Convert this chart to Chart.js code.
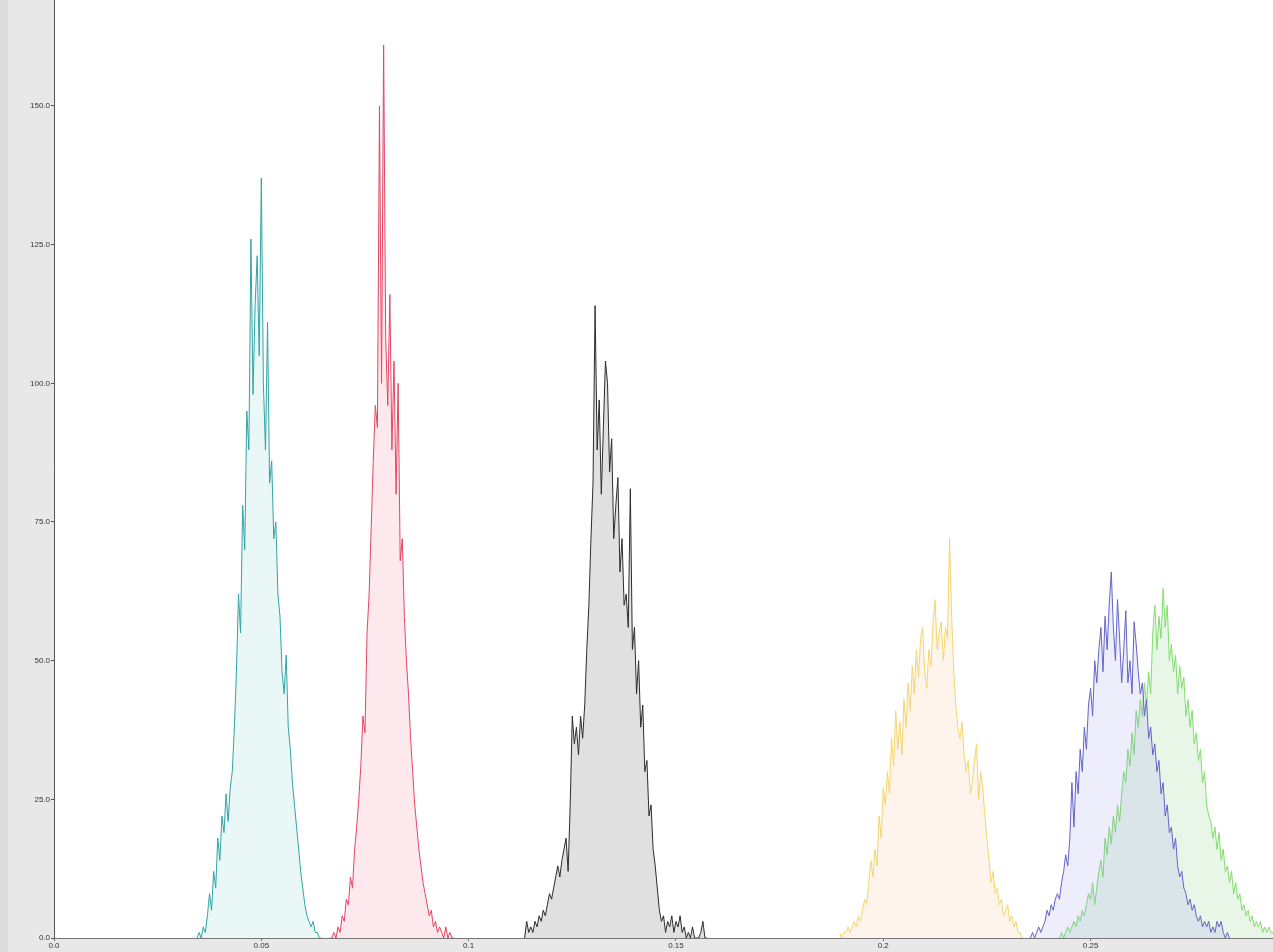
<!DOCTYPE html>
<html>
<head>
<meta charset="utf-8">
<script src="https://cdn.jsdelivr.net/npm/chart.js@4.4.1/dist/chart.umd.min.js"></script>
<style>
html,body{margin:0;padding:0;background:#e8e8e8;}
#wrap{width:1273px;height:952px;position:relative;}
canvas{display:block;}
</style>
</head>
<body>
<div id="wrap"><canvas id="c" width="1273" height="952"></canvas></div>
<script>
// ---- data ----
const binWidth = 0.0005;
const xMax = 0.294;
const yMax = 169.1;

const xTickValues = [0, 0.05, 0.1, 0.15, 0.2, 0.25];
const xTickLabels = ['0.0', '0.05', '0.1', '0.15', '0.2', '0.25'];
const yTickValues = [0, 25, 50, 75, 100, 125, 150];
const yTickLabels = ['0.0', '25.0', '50.0', '75.0', '100.0', '125.0', '150.0'];

const tealStart = 0.0345;
const tealY = [0,1,0,2,1,4,8,5,12,9,18,14,22,19,26,21,27,30,38,48,62,55,78,70,95,88,126,98,114,123,105,137,100,88,111,82,86,72,75,62,58,48,44,51,38,34,28,24,20,16,12,9,6,4,3,2,3,1,1,0,0];

const redStart = 0.0665;
const redY = [0,0,1,0,2,1,4,3,7,6,11,9,16,20,25,31,40,37,55,62,74,86,96,92,150,100,161,108,96,116,88,104,80,100,68,72,58,50,44,36,30,24,20,16,13,10,8,6,4,5,2,3,1,2,1,0,2,0,1,0,0];

const blackStart = 0.1135;
const blackY = [0,3,1,2,1,3,2,4,3,5,4,6,8,7,9,11,13,11,14,16,18,12,24,40,35,38,33,40,36,42,52,60,72,82,114,88,97,80,92,104,100,84,90,72,78,83,66,72,60,62,56,81,52,56,44,50,38,42,30,32,22,24,16,13,9,5,3,4,1,3,2,4,1,3,2,4,1,2,0,1,0,2,0,0,0,1,3,0,0];

const yellowStart = 0.1895;
const yellowY = [1,0,1,1,2,1,2,3,2,4,3,5,7,6,10,14,11,16,13,22,18,27,24,30,26,36,31,41,34,39,33,43,38,46,41,49,44,52,47,54,56,48,45,52,49,57,61,52,55,57,50,56,54,72,58,48,42,38,36,39,33,30,32,26,28,32,35,25,30,27,22,18,14,10,12,8,9,6,7,4,5,6,3,4,2,3,1,1,0];

const blueStart = 0.2355;
const blueY = [0,1,0,1,2,1,2,3,5,4,6,5,7,8,7,10,12,15,13,18,28,20,30,26,34,30,38,34,42,45,40,50,46,52,56,48,58,52,60,66,56,50,61,54,46,52,59,46,50,44,57,53,48,44,46,40,43,36,38,33,35,30,32,26,28,22,24,19,20,16,18,13,11,12,9,8,6,7,5,6,4,3,4,2,3,2,3,1,2,1,3,2,3,1,0,1,0];

const greenStart = 0.2425;
const greenY = [0,1,0,1,2,1,2,3,2,4,3,5,4,6,8,7,10,6,9,12,14,11,18,15,20,17,22,19,24,21,26,30,28,34,31,37,33,41,38,43,40,46,42,48,44,55,60,52,58,54,63,56,60,50,53,48,51,44,49,45,47,40,43,38,41,35,37,32,34,28,30,24,22,21,18,20,16,19,14,16,12,13,10,12,8,10,7,8,5,6,4,5,3,4,2,3,2,3,1,2,1,2,1,1];

const seriesNames = ['teal', 'red', 'black', 'yellow', 'blue', 'green'];
const seriesStarts = [tealStart, redStart, blackStart, yellowStart, blueStart, greenStart];
const seriesValues = [tealY, redY, blackY, yellowY, blueY, greenY];

// ---- styles ----
const lineColors = ['rgb(50,165,165)', 'rgb(228,70,100)', 'rgb(45,45,45)', 'rgb(244,214,110)', 'rgb(100,100,200)', 'rgb(130,222,110)'];
const fillColors = ['rgba(90,190,190,0.13)', 'rgba(240,110,135,0.15)', 'rgba(0,0,0,0.12)', 'rgba(255,190,140,0.17)', 'rgba(140,140,235,0.16)', 'rgba(120,205,120,0.18)'];

const datasets = seriesValues.map((vals, k) => ({
  label: seriesNames[k],
  data: vals.map((v, i) => ({x: seriesStarts[k] + i * binWidth, y: v})),
  borderColor: lineColors[k],
  backgroundColor: fillColors[k],
  borderWidth: 1,
  pointRadius: 0,
  tension: 0,
  fill: 'origin'
}));

const bgPlugin = {
  id: 'bg',
  beforeDraw(chart) {
    const {ctx, chartArea} = chart;
    ctx.save();
    ctx.fillStyle = '#e8e8e8';
    ctx.fillRect(0, 0, chart.width, chart.height);
    ctx.fillStyle = '#dcdcdc';
    ctx.fillRect(0, 0, 8, chart.height);
    ctx.fillStyle = '#ffffff';
    ctx.fillRect(chartArea.left, chartArea.top, chartArea.right - chartArea.left, chartArea.bottom - chartArea.top);
    ctx.restore();
  }
};

const tickFont = {family: 'Liberation Sans', size: 8};

new Chart(document.getElementById('c'), {
  type: 'line',
  data: {datasets},
  plugins: [bgPlugin],
  options: {
    responsive: false,
    maintainAspectRatio: false,
    devicePixelRatio: 1,
    animation: false,
    layout: {padding: 0},
    plugins: {legend: {display: false}, tooltip: {enabled: false}},
    scales: {
      x: {
        type: 'linear',
        min: 0,
        max: xMax,
        afterFit(s) { s.height = 14; s.paddingLeft = 0; s.paddingRight = 0; },
        afterBuildTicks(s) { s.ticks = xTickValues.map(v => ({value: v})); },
        ticks: {
          autoSkip: false,
          maxRotation: 0,
          padding: 0,
          color: '#333',
          font: tickFont,
          callback: (v) => { const i = xTickValues.findIndex(t => Math.abs(t - v) < 1e-9); return i >= 0 ? xTickLabels[i] : ''; }
        },
        grid: {drawOnChartArea: false, drawTicks: true, tickLength: 3, color: '#777'},
        border: {display: true, color: '#777', width: 1}
      },
      y: {
        type: 'linear',
        min: 0,
        max: yMax,
        afterFit(s) { s.width = 54; s.paddingTop = 0; s.paddingBottom = 0; },
        afterBuildTicks(s) { s.ticks = yTickValues.map(v => ({value: v})); },
        ticks: {
          autoSkip: false,
          padding: 1,
          color: '#333',
          font: tickFont,
          callback: (v) => { const i = yTickValues.indexOf(v); return i >= 0 ? yTickLabels[i] : ''; }
        },
        grid: {drawOnChartArea: false, drawTicks: true, tickLength: 3, color: '#555'},
        border: {display: true, color: '#555', width: 1}
      }
    }
  }
});
</script>
</body>
</html>
